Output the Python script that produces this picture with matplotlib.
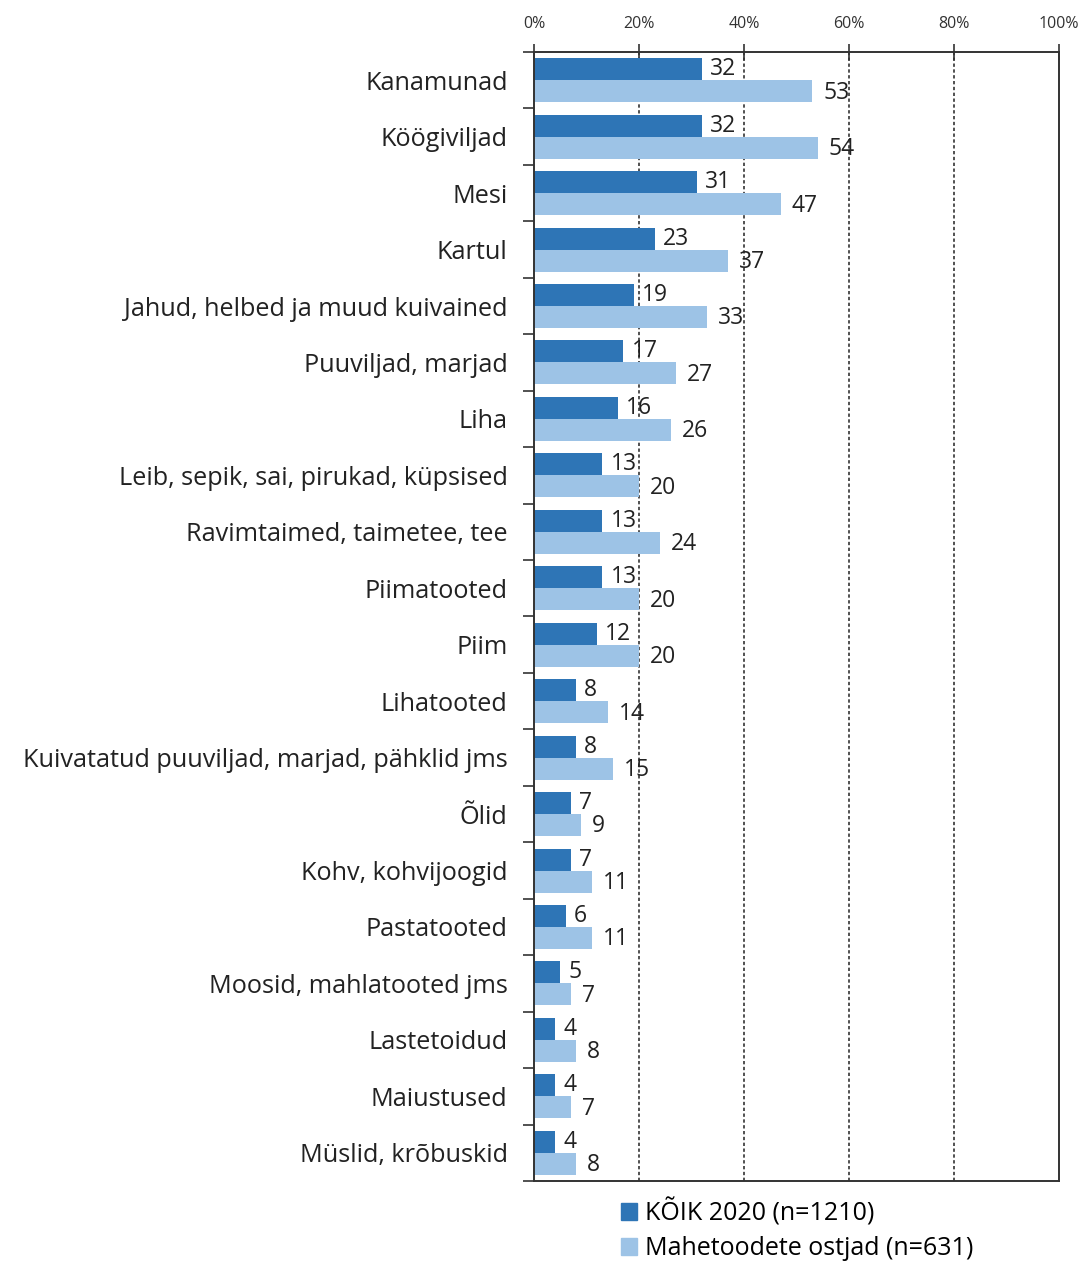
import matplotlib
matplotlib.use("Agg")
import matplotlib.pyplot as plt
import numpy as np
from matplotlib.patches import Patch

categories = ["Kanamunad", "Köögiviljad", "Mesi", "Kartul",
              "Jahud, helbed ja muud kuivained", "Puuviljad, marjad", "Liha",
              "Leib, sepik, sai, pirukad, küpsised", "Ravimtaimed, taimetee, tee",
              "Piimatooted", "Piim", "Lihatooted",
              "Kuivatatud puuviljad, marjad, pähklid jms", "Õlid",
              "Kohv, kohvijoogid", "Pastatooted", "Moosid, mahlatooted jms",
              "Lastetoidud", "Maiustused", "Müslid, krõbuskid"]
koik_2020 = [32, 32, 31, 23, 19, 17, 16, 13, 13, 13, 12, 8, 8, 7, 7, 6, 5, 4, 4, 4]
mahe_ostjad = [53, 54, 47, 37, 33, 27, 26, 20, 24, 20, 20, 14, 15, 9, 11, 11, 7, 8, 7, 8]
series_names = ["KÕIK 2020 (n=1210)", "Mahetoodete ostjad (n=631)"]
xticks = [0, 20, 40, 60, 80, 100]
xticklabels = ["0%", "20%", "40%", "60%", "80%", "100%"]

dark = "#2E75B6"
light = "#9DC3E6"
plt.rcParams['font.family'] = ['Open Sans', 'DejaVu Sans']

W, H = 1089, 1264
fig = plt.figure(figsize=(W / 100, H / 100), dpi=100)
ax = fig.add_axes([534 / W, 1 - 1181 / H, (1059 - 534) / W, (1181 - 52) / H])

y = np.arange(len(categories))
bh = 0.39
ax.barh(y - bh / 2, koik_2020, height=bh, color=dark, zorder=2)
ax.barh(y + bh / 2, mahe_ostjad, height=bh, color=light, zorder=2)

for yi, v in zip(y, koik_2020):
    ax.annotate(str(v), (v, yi - bh / 2), xytext=(6, 0), textcoords="offset points",
                ha="left", va="center", fontsize=16.5, color="#222222", zorder=4)
for yi, v in zip(y, mahe_ostjad):
    ax.annotate(str(v), (v, yi + bh / 2), xytext=(8, -1), textcoords="offset points",
                ha="left", va="center", fontsize=16.5, color="#222222", zorder=4)

ax.set_xlim(0, 100)
ax.set_ylim(len(categories) - 0.5, -0.5)

for gx in [20, 40, 60, 80]:
    ax.axvline(gx, color="#333333", lw=1.2, ls=(0, (2, 1.5)), zorder=1)

ax.xaxis.tick_top()
ax.set_xticks(xticks)
ax.set_xticklabels(xticklabels, fontsize=11.5, color="#333333")
ax.tick_params(axis="x", direction="inout", length=11, width=1.2, pad=9, colors="#333333")
ax.tick_params(axis="x", labelcolor="#333333")

ax.set_yticks(y)
ax.set_yticklabels(categories, fontsize=18.2, color="#222222")
ax.tick_params(axis="y", length=0, pad=19)
ax.set_yticks(np.arange(-0.5, len(categories) + 0.5, 1.0), minor=True)
ax.tick_params(axis="y", which="minor", length=8, width=1.2, direction="out", color="#333333")

for s in ax.spines.values():
    s.set_color("#333333")
    s.set_linewidth(1.4)

handles = [Patch(color=dark), Patch(color=light)]
fig.legend(handles, series_names, loc="upper left",
           bbox_to_anchor=(621 / W, 1 - 1198 / H), frameon=False,
           fontsize=18, handlelength=0.62, handleheight=0.62, handletextpad=0.35,
           labelspacing=0.4, borderaxespad=0, borderpad=0)

fig.savefig("out.png", dpi=100)
